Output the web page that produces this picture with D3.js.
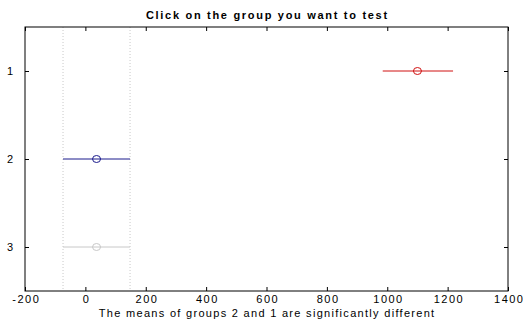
<!DOCTYPE html>
<html><head><meta charset="utf-8">
<script src="https://cdn.jsdelivr.net/npm/d3@7"></script>
<style>body{margin:0;background:#fff}svg{display:block}text{font-family:"Liberation Sans",Arial,sans-serif}</style>
</head><body><svg id="c" width="523" height="322"></svg>
<script>
const groups = ["1","2","3"];
const means = [1100, 37, 37];
const lowers = [985, -74, -74];
const uppers = [1218, 148, 148];
const colors = ["#d01010","#1a1a8c","#c8c8c8"];
const xTicks = [-200,0,200,400,600,800,1000,1200,1400];
const title = "Click on the group you want to test";
const xLabel = "The means of groups 2 and 1 are significantly different";
const selected = 1;

const svg = d3.select("#c");
const L=25,R=508,T=27,B=291;
const x = d3.scaleLinear().domain([-200,1400]).range([L,R]);
const y = d3.scaleLinear().domain([0.5,3.5]).range([T,B]);

[lowers[selected], uppers[selected]].forEach(v=>{
  svg.append("line").attr("x1",x(v)).attr("x2",x(v)).attr("y1",T).attr("y2",B)
    .attr("stroke","#c8c8c8").attr("stroke-dasharray","1,2").attr("stroke-width",1);
});

groups.forEach((g,i)=>{
  const yy = y(i+1);
  svg.append("line").attr("x1",x(lowers[i])).attr("x2",x(uppers[i])).attr("y1",yy).attr("y2",yy)
    .attr("stroke",colors[i]).attr("stroke-width",1);
  svg.append("ellipse").attr("cx",x(means[i])).attr("cy",yy).attr("rx",4).attr("ry",3.5)
    .attr("fill","none").attr("stroke",colors[i]).attr("stroke-width",1);
});

svg.append("rect").attr("x",L).attr("y",T).attr("width",R-L).attr("height",B-T)
  .attr("fill","none").attr("stroke","#000").attr("stroke-width",1);

const xb = svg.append("g").attr("transform",`translate(0,${B})`)
  .call(d3.axisBottom(x).tickValues(xTicks).tickSize(-4).tickPadding(4).tickFormat(d=>String(d)));
const xt = svg.append("g").attr("transform",`translate(0,${T})`)
  .call(d3.axisTop(x).tickValues(xTicks).tickSize(-4).tickFormat(""));
const yl = svg.append("g").attr("transform",`translate(${L},0)`)
  .call(d3.axisLeft(y).tickValues([1,2,3]).tickSize(-4).tickPadding(12).tickFormat((d,i)=>groups[i]));
const yr = svg.append("g").attr("transform",`translate(${R},0)`)
  .call(d3.axisRight(y).tickValues([1,2,3]).tickSize(-4).tickFormat(""));
[xb,xt,yl,yr].forEach(g=>{
  g.select(".domain").remove();
  g.selectAll("line").attr("stroke","#000");
  g.selectAll("text").attr("font-size",11).attr("fill","#000");
});
xb.selectAll("text").attr("letter-spacing",1.5).attr("dx",0.75);

svg.append("text").attr("x",(L+R)/2+0.85).attr("y",19).attr("text-anchor","middle")
  .attr("font-size",11).attr("font-weight","bold").attr("letter-spacing",1.7).text(title);
svg.append("text").attr("x",(L+R)/2+0.65).attr("y",317).attr("text-anchor","middle")
  .attr("font-size",11).attr("letter-spacing",1.3).text(xLabel);
</script></body></html>
